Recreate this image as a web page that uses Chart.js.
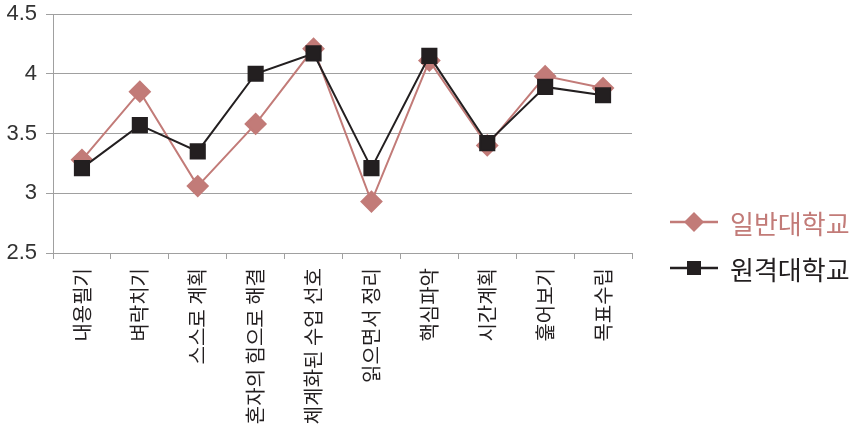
<!DOCTYPE html>
<html lang="ko">
  <head>
    <meta charset="UTF-8" />
    <title>일반대학교 / 원격대학교</title>
    <style>
      body { margin: 0; background: #fff; }
      #wrap { position: relative; width: 854px; height: 438px; }
      #legend { position: absolute; left: 668px; top: 199px; font-family: "Noto Sans CJK KR", sans-serif; font-size: 26px; }
      .item { display: flex; align-items: center; height: 46px; }
      .item svg { margin-right: 10px; }
    </style>
  </head>
  <body>
    <div id="wrap">
      <canvas id="myChart" width="854" height="438"></canvas>
      <div id="legend">
        <div class="item" style="color: #c27b78">
          <svg width="52" height="24"><line x1="2" y1="12" x2="50" y2="12" stroke="#c27b78" stroke-width="2.5"/><polygon points="26,2 36,12 26,22 16,12" fill="#c27b78"/></svg>일반대학교
        </div>
        <div class="item" style="color: #231f20">
          <svg width="52" height="24"><line x1="2" y1="12" x2="50" y2="12" stroke="#231f20" stroke-width="2.5"/><rect x="19" y="5" width="14" height="14" fill="#231f20"/></svg>원격대학교
        </div>
      </div>
    </div>

    <script src="https://cdn.jsdelivr.net/npm/chart.js@4.4.1/dist/chart.umd.min.js"></script>
    <script>
      const labels = ["내용필기", "벼락치기", "스스로 계획", "혼자의 힘으로 해결", "체계화된 수업 선호",
        "읽으면서 정리", "핵심파악", "시간계획", "훑어보기", "목표수립"];
      const general = [3.28, 3.85, 3.06, 3.58, 4.21, 2.93, 4.11, 3.40, 3.98, 3.88];
      const remote = [3.21, 3.57, 3.35, 4.0, 4.17, 3.21, 4.15, 3.42, 3.89, 3.82];
      const yTicks = [2.5, 3, 3.5, 4, 4.5];

      const ctx = document.getElementById("myChart").getContext("2d");
      const myChart = new Chart(ctx, {
        type: "line",
        data: {
          labels: labels,
          datasets: [
            {
              label: "원격대학교",
              data: remote,
              borderColor: "#231f20",
              backgroundColor: "#231f20",
              borderWidth: 2,
              pointStyle: "rect",
              pointRadius: 10,
              pointHoverRadius: 10,
              tension: 0,
            },
            {
              label: "일반대학교",
              data: general,
              borderColor: "#c27b78",
              backgroundColor: "#c27b78",
              borderWidth: 2,
              pointStyle: "rectRot",
              pointRadius: 10,
              pointHoverRadius: 10,
              tension: 0,
            },
          ],
        },
        options: {
          responsive: false,
          animation: false,
          layout: { padding: { top: 14, right: 222, left: 0, bottom: 0 } },
          plugins: { legend: { display: false }, tooltip: { enabled: false } },
          scales: {
            x: {
              offset: true,
              afterFit: (s) => { s.height = 185; },
              grid: { offset: true, drawOnChartArea: false, drawTicks: true, tickLength: 6, color: "#a0a0a0" },
              border: { color: "#a0a0a0" },
              ticks: {
                minRotation: 90,
                maxRotation: 90,
                padding: 9,
                color: "#231f20",
                font: { family: "Noto Sans CJK KR", size: 20 },
              },
            },
            y: {
              min: 2.5,
              max: 4.5,
              afterFit: (s) => { s.width = 53; s.paddingTop = 0; s.paddingBottom = 0; },
              afterBuildTicks: (s) => { s.ticks = yTicks.map((v) => ({ value: v })); },
              grid: { color: "#a0a0a0", tickLength: 7 },
              border: { color: "#a0a0a0" },
              ticks: {
                padding: 9,
                color: "#333",
                font: { family: "Liberation Sans", size: 22 },
                callback: (v) => String(v),
              },
            },
          },
        },
      });
    </script>
  </body>
</html>
